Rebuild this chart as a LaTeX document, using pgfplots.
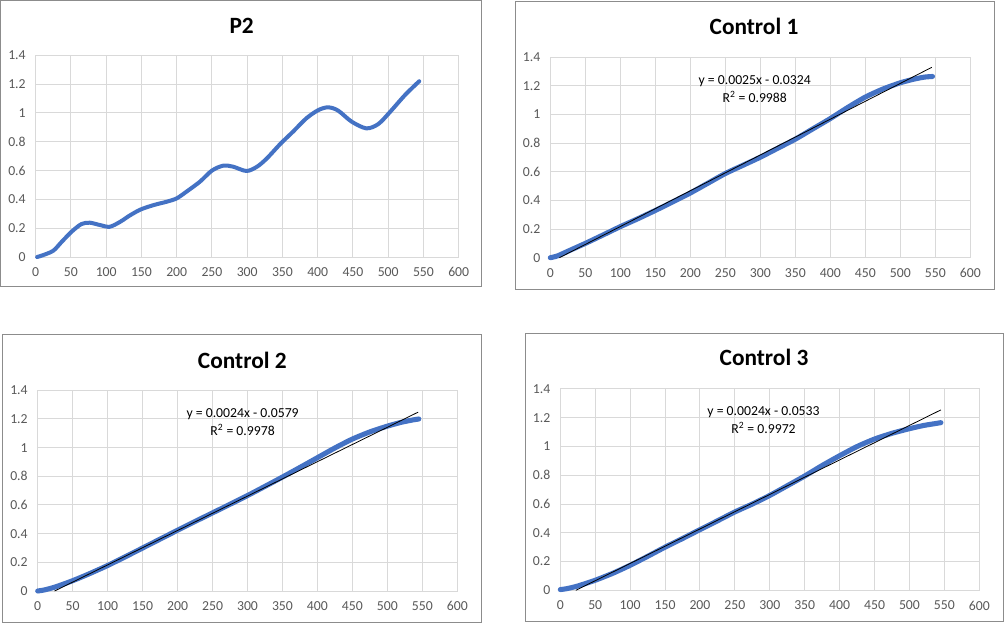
\documentclass[border=0pt]{standalone}
\usepackage{fontspec}
\setmainfont{Carlito}
\usepackage{pgfplots}
\pgfplotsset{compat=1.18}
\definecolor{xlblue}{HTML}{4472C4}
\definecolor{xlgrid}{HTML}{D9D9D9}
\definecolor{xltick}{HTML}{595959}
\definecolor{xlframe}{HTML}{8C8C8C}
\tikzset{
  eqlabel/.style={font=\fontsize{10.3}{12}\selectfont, text=black, anchor=center, inner sep=0pt},
  dataline/.style={xlblue, line width=3pt, smooth, tension=0.5, line cap=round, line join=round},
  ctrlline/.style={xlblue, line width=3.8pt, smooth, tension=0.4, line cap=round, line join=round},
  trend/.style={black, line width=0.6pt},
}
\pgfplotsset{
  xlstyle/.style={
    scale only axis,
    xmin=0, xmax=600, ymin=0, ymax=1.4,
    xtick={0,50,100,150,200,250,300,350,400,450,500,550,600},
    ytick={0,0.2,0.4,0.6,0.8,1,1.2,1.4},
    grid=major, major grid style={xlgrid, line width=0.75pt},
    axis line style={xlgrid, line width=0.75pt},
    tick style={draw=none},
    ticklabel style={font=\fontsize{10.3}{12}\selectfont, text=xltick},
    /pgf/number format/assume math mode=true,
    yticklabel style={/pgf/number format/fixed, /pgf/number format/precision=1, xshift=-4pt},
    xticklabel style={/pgf/number format/fixed, yshift=-4.5pt},
    clip=false,
    anchor=north west,
  },
}
\begin{document}
\begin{tikzpicture}
\useasboundingbox (0,0) rectangle (753pt,-467.25pt);
\fill[white] (0,0) rectangle (753pt,-467.25pt);
% frames
\draw[xlframe, line width=0.75pt] (0.38pt,-0.38pt) rectangle (360.75pt,-215.25pt);
\draw[xlframe, line width=0.75pt] (386.25pt,-0.98pt) rectangle (745.73pt,-216.98pt);
\draw[xlframe, line width=0.75pt] (1.73pt,-250.73pt) rectangle (360.98pt,-466.73pt);
\draw[xlframe, line width=0.75pt] (393.98pt,-249.98pt) rectangle (752.63pt,-465.75pt);
% titles
\node[anchor=base, font=\fontsize{17.5}{20}\selectfont\bfseries] at (181.28pt,-24.98pt) {P2};
\node[anchor=base, font=\fontsize{17.5}{20}\selectfont\bfseries] at (565.5pt,-26.25pt) {Control 1};
\node[anchor=base, font=\fontsize{17.5}{20}\selectfont\bfseries] at (181.73pt,-276.23pt) {Control 2};
\node[anchor=base, font=\fontsize{17.5}{20}\selectfont\bfseries] at (573pt,-274.5pt) {Control 3};

% P2
\begin{axis}[xlstyle, at={(26.78pt,-41.48pt)}, width=317.25pt, height=151.28pt]
\addplot[dataline] coordinates {
(2,0) (11,0.014) (25,0.044) (37,0.106) (51,0.176) (65,0.229) (77,0.238) (91,0.222)
(105,0.21) (120,0.245) (134,0.29) (149,0.33) (167,0.36) (186,0.384) (200,0.407)
(214,0.454) (233,0.523) (250,0.6) (266,0.634) (280,0.627) (299,0.597) (314,0.627)
(328,0.685) (347,0.785) (365,0.87) (384,0.963) (401,1.02) (415,1.039) (429,1.016)
(448,0.94) (469,0.893) (486,0.923) (503,1.009) (524,1.125) (544,1.22)
};
\end{axis}

% Control 1
\begin{axis}[xlstyle, at={(412.73pt,-42.98pt)}, width=315pt, height=150.3pt]
\addplot[ctrlline] coordinates {
(0,0) (10,0.012) (25,0.045) (50,0.1) (75,0.158) (100,0.217) (125,0.272) (150,0.33)
(175,0.39) (200,0.452) (225,0.52) (250,0.588) (275,0.645) (300,0.702) (325,0.765)
(350,0.828) (375,0.9) (400,0.972) (425,1.05) (450,1.122) (475,1.178) (500,1.222)
(520,1.248) (535,1.262) (546,1.266)
};
\addplot[trend] coordinates {(12.96,0) (545,1.3301)};
\node[eqlabel] at (axis cs:292,1.235) {y = 0.0025x - 0.0324};
\node[eqlabel] at (axis cs:292,1.123) {R\textsuperscript{2} = 0.9988};
\end{axis}

% Control 2
\begin{axis}[xlstyle, at={(28.28pt,-292.73pt)}, width=314.7pt, height=150.53pt]
\addplot[ctrlline] coordinates {
(0,0) (10,0.008) (25,0.028) (50,0.072) (75,0.123) (100,0.178) (125,0.238) (150,0.3)
(175,0.362) (200,0.424) (225,0.485) (250,0.545) (275,0.605) (300,0.666) (325,0.73)
(350,0.795) (375,0.862) (400,0.93) (425,0.998) (450,1.06) (475,1.11) (500,1.15)
(520,1.177) (535,1.192) (545,1.2)
};
\addplot[trend] coordinates {(24.1,0) (544,1.2477)};
\node[eqlabel] at (axis cs:293,1.235) {y = 0.0024x - 0.0579};
\node[eqlabel] at (axis cs:293,1.121) {R\textsuperscript{2} = 0.9978};
\end{axis}

% Control 3
\begin{axis}[xlstyle, at={(420.23pt,-291.75pt)}, width=314.25pt, height=150.98pt]
\addplot[ctrlline] coordinates {
(0,0.005) (10,0.012) (25,0.03) (50,0.07) (75,0.118) (100,0.174) (125,0.236) (150,0.3)
(175,0.36) (200,0.422) (225,0.483) (250,0.545) (275,0.6) (300,0.66) (325,0.727)
(350,0.795) (375,0.868) (400,0.936) (425,1.0) (450,1.052) (475,1.092) (500,1.124)
(520,1.146) (535,1.158) (545,1.166)
};
\addplot[trend] coordinates {(22.2,0) (545,1.2547)};
\node[eqlabel] at (axis cs:291,1.24) {y = 0.0024x - 0.0533};
\node[eqlabel] at (axis cs:291,1.129) {R\textsuperscript{2} = 0.9972};
\end{axis}
\end{tikzpicture}
\end{document}
